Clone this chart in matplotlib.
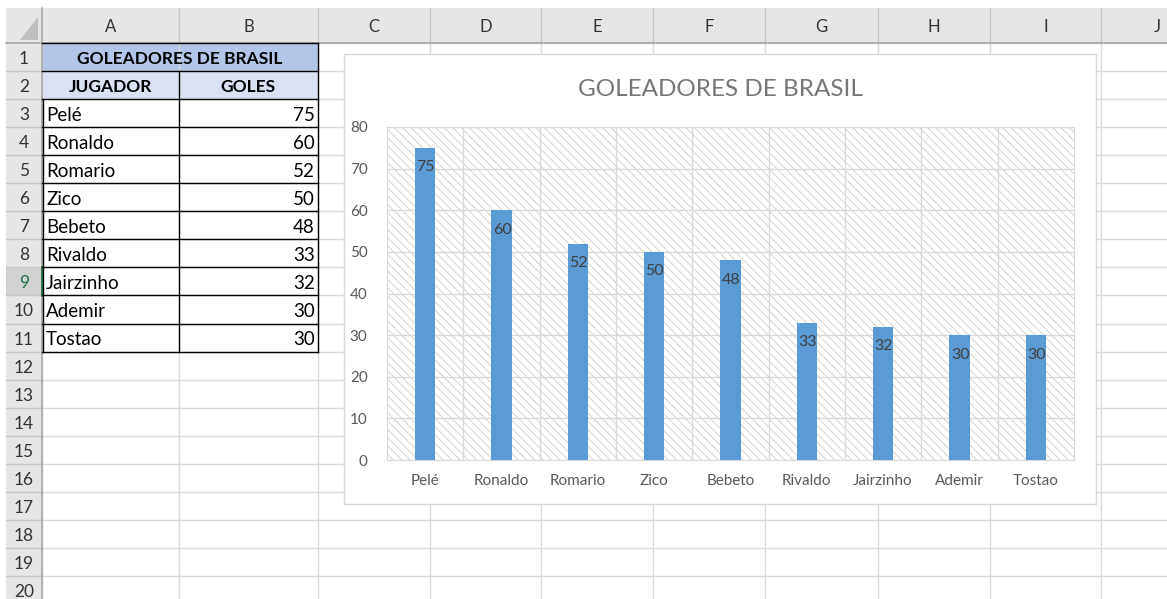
import numpy as np
import matplotlib.pyplot as plt
from matplotlib.patches import Rectangle, Polygon

plt.rcParams['font.family'] = ['Lato', 'DejaVu Sans']
plt.rcParams['hatch.linewidth'] = 0.6

# data
jugadores = ['Pelé', 'Ronaldo', 'Romario', 'Zico', 'Bebeto', 'Rivaldo', 'Jairzinho', 'Ademir', 'Tostao']
goles = [75, 60, 52, 50, 48, 33, 32, 30, 30]
titulo = 'GOLEADORES DE BRASIL'
encabezados = ['JUGADOR', 'GOLES']
columnas = ['A', 'B', 'C', 'D', 'E', 'F', 'G', 'H', 'I', 'J']
y_ticks = [0, 10, 20, 30, 40, 50, 60, 70, 80]

W, H = 1167, 599
fig = plt.figure(figsize=(W / 100, H / 100), dpi=100)

# --- the worksheet, drawn in pixel coords ---
sh = fig.add_axes([0, 0, 1, 1])
sh.set_xlim(0, W)
sh.set_ylim(H, 0)
sh.axis('off')

col_edges = [42, 179, 318, 430, 541, 653, 765, 878, 990, 1101, 1213]
row_h = 28.05
row_edges = [43 + row_h * k for k in range(21)]
txt_dy = 2  # excel sits text a bit low in the cell

# cell grid
for x in col_edges:
    sh.plot([x, x], [43, H], color='#dadada', lw=1)
for y in row_edges:
    sh.plot([42, W], [y, y], color='#dadada', lw=1)

# headers
sh.add_patch(Rectangle((6, 8), W - 6, 35, fc='#e6e6e6', ec='none'))
sh.add_patch(Rectangle((6, 43), 36, H - 43, fc='#e6e6e6', ec='none'))
sh.add_patch(Rectangle((6, row_edges[8]), 36, row_h, fc='#d2d2d2', ec='none'))
for x in col_edges[1:]:
    sh.plot([x, x], [8, 43], color='#c6c6c6', lw=1)
for y in row_edges[1:]:
    sh.plot([6, 42], [y, y], color='#c6c6c6', lw=1)
sh.plot([6, W], [43, 43], color='#a8a8a8', lw=1.2)
sh.plot([42, 42], [8, H], color='#a8a8a8', lw=1.2)
sh.plot([42, 42], [row_edges[8], row_edges[9]], color='#217346', lw=2)
sh.add_patch(Polygon([(38, 17), (38, 40), (20, 40)], fc='#bfbfbf', ec='none'))

for i, c in enumerate(columnas):
    sh.text((col_edges[i] + col_edges[i + 1]) / 2, 27, c, ha='center', va='center',
            fontsize=12, color='#333333')
for k in range(20):
    sh.text(24, row_edges[k] + row_h / 2 + txt_dy, str(k + 1), ha='center', va='center',
            fontsize=12.5, color='#217346' if k == 8 else '#333333')

# table
sh.add_patch(Rectangle((42, row_edges[0]), 276, row_h, fc='#b4c6e7', ec='none'))
sh.add_patch(Rectangle((42, row_edges[1]), 276, row_h, fc='#d9e1f2', ec='none'))
sh.text(180, row_edges[0] + row_h / 2 + txt_dy, titulo, ha='center', va='center',
        fontsize=12.5, fontweight='bold', color='black')
sh.text(110, row_edges[1] + row_h / 2 + txt_dy, encabezados[0], ha='center', va='center',
        fontsize=12.5, fontweight='bold', color='black')
sh.text(248, row_edges[1] + row_h / 2 + txt_dy, encabezados[1], ha='center', va='center',
        fontsize=12.5, fontweight='bold', color='black')
for k, (j, g) in enumerate(zip(jugadores, goles)):
    yc = row_edges[k + 2] + row_h / 2 + txt_dy
    sh.text(46, yc, j, ha='left', va='center', fontsize=13.5, color='black')
    sh.text(315, yc, str(g), ha='right', va='center', fontsize=13.5, color='black')
for y in row_edges[:12]:
    sh.plot([42, 318], [y, y], color='black', lw=1)
sh.plot([318, 318], [row_edges[0], row_edges[11]], color='black', lw=1)
sh.plot([179, 179], [row_edges[1], row_edges[11]], color='black', lw=1)
sh.plot([43, 43], [row_edges[2], row_edges[11]], color='black', lw=1)

# chart frame
sh.add_patch(Rectangle((344, 54), 752, 450, fc='white', ec='#d9d9d9', lw=1, zorder=5))
sh.text(720, 89, titulo, ha='center', va='center', fontsize=17.5,
        color='#767676', zorder=6)

# --- the chart ---
ax = fig.add_axes([387 / W, (H - 460) / H, 687 / W, 333 / H])
ax.set_facecolor('white')
ax.add_patch(Rectangle((0, 0), 1, 1, transform=ax.transAxes, fc='white',
                       ec='#cccccc', lw=0, hatch='\\\\\\\\', zorder=0))

x = np.arange(len(jugadores))
ax.bar(x, goles, width=0.27, color='#5b9bd5', zorder=3)
for xi, v in zip(x, goles):
    ax.annotate(str(v), (xi, v), xytext=(0.5, -14), textcoords='offset points',
                ha='center', va='center', fontsize=11.5, color='#404040', zorder=4)

ax.set_xlim(-0.5, len(jugadores) - 0.5)
ax.set_ylim(0, 80)
ax.set_yticks(y_ticks)
ax.set_xticks(x)
ax.set_xticklabels(jugadores)
ax.set_xticks(x[:-1] + 0.5, minor=True)
ax.grid(axis='y', which='major', color='#d9d9d9', lw=1, zorder=1)
ax.grid(axis='x', which='minor', color='#d9d9d9', lw=1, zorder=1)
ax.set_axisbelow(True)
ax.tick_params(which='both', length=0)
ax.tick_params(axis='y', pad=14, labelsize=11, labelcolor='#595959')
ax.tick_params(axis='x', pad=10, labelsize=11, labelcolor='#595959')
for s in ax.spines.values():
    s.set_color('#d9d9d9')

fig.savefig('out.png', dpi=100)
